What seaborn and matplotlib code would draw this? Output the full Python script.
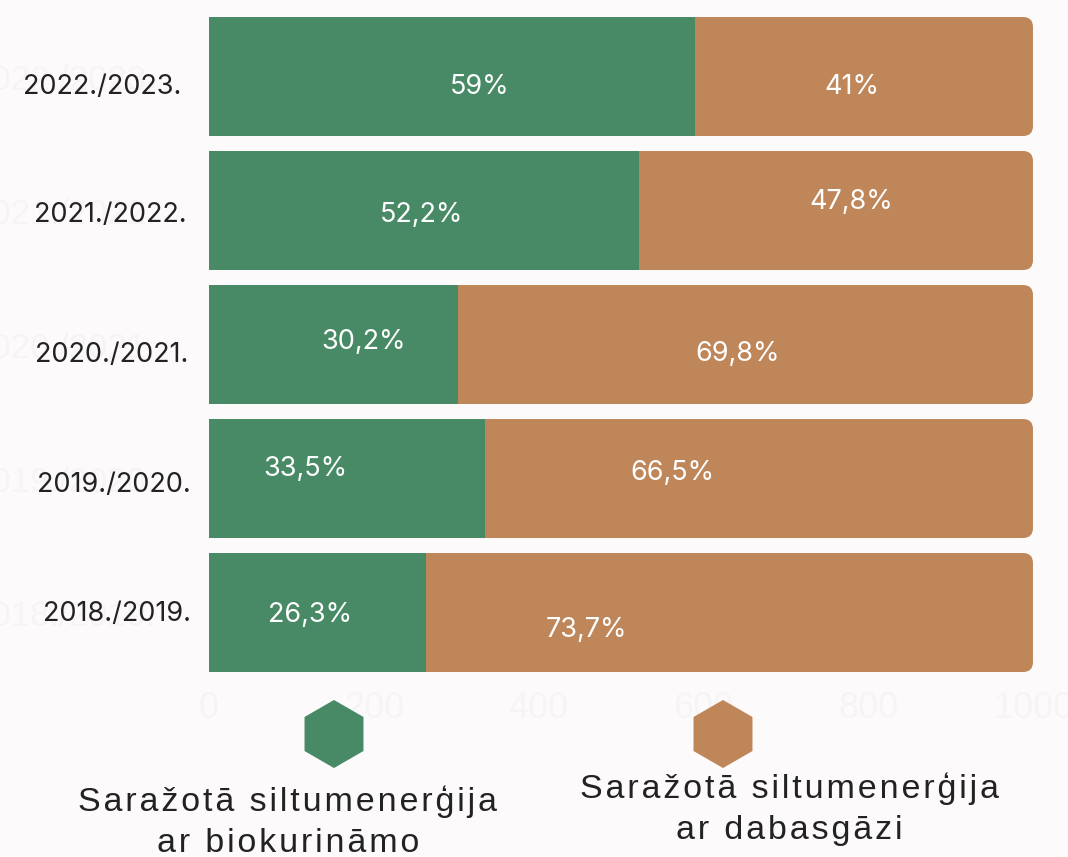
import matplotlib.pyplot as plt
import pandas as pd
import seaborn as sns
from matplotlib.patches import FancyBboxPatch

# data (bar lengths on the 0-1000 axis used by the original chart)
periods = ["2022./2023.", "2021./2022.", "2020./2021.", "2019./2020.", "2018./2019."]
bio = [590, 522, 302, 335, 263]
gas = [410, 478, 698, 665, 737]
bio_labels = ["59%", "52,2%", "30,2%", "33,5%", "26,3%"]
gas_labels = ["41%", "47,8%", "69,8%", "66,5%", "73,7%"]
legend_texts = ["Saražotā siltumenerģija\nar biokurināmo", "Saražotā siltumenerģija\nar dabasgāzi"]

# where the percentage labels sit (hand placed in the original)
bio_lbl_x = [329, 258, 187, 117, 123]
bio_lbl_y = [0.08, 1.03, 1.98, 2.93, 4.02]
gas_lbl_x = [780, 779, 641, 562, 458]
gas_lbl_y = [0.08, 0.935, 2.07, 2.96, 4.13]
ylab_x = [-33, -27, -25, -22, -22]
ylab_y = [0.08, 1.03, 2.075, 3.05, 4.01]

GREEN = "#478a65"
BROWN = "#bf865a"
BG = "#fcfafa"
FAINT = "#f6f4f4"

sns.set_theme(style="white")
plt.rcParams['font.family'] = ['Inter', 'DejaVu Sans']
NARROW = ['Liberation Sans Narrow', 'Liberation Sans', 'DejaVu Sans']

df = pd.DataFrame({"period": periods, "bio": bio, "gas": gas})
df["total"] = df["bio"] + df["gas"]

fig = plt.figure(figsize=(10.68, 8.57), dpi=100, facecolor=BG)
ax = fig.add_axes([0.1957, 0.2071, 0.7715, 0.7818])
ax.set_facecolor(BG)

sns.barplot(data=df, y="period", x="total", color=BROWN, saturation=1, width=0.888,
            linewidth=0, orient="h", ax=ax)
# round the right end of the brown bars
for p in list(ax.patches):
    x, y, w, h = p.get_x(), p.get_y(), p.get_width(), p.get_height()
    p.remove()
    ax.add_patch(FancyBboxPatch((x, y), w, h, boxstyle="round,pad=0,rounding_size=12",
                                mutation_aspect=0.00616, facecolor=BROWN, edgecolor="none"))
sns.barplot(data=df, y="period", x="bio", color=GREEN, saturation=1, width=0.888,
            linewidth=0, orient="h", ax=ax)

ax.set_xlim(0, 1000)
ax.set_ylim(4.5, -0.5)
ax.set_xlabel("")
ax.set_ylabel("")
sns.despine(ax=ax, left=True, bottom=True)

ax.set_xticks([0, 200, 400, 600, 800, 1000])
ax.set_xticklabels(["0", "200", "400", "600", "800", "1000"], family=NARROW,
                   fontsize=26, color=FAINT)
ax.set_yticks(range(len(periods)))
ax.set_yticklabels(periods, family=NARROW, fontsize=25, color=FAINT)
ax.tick_params(axis="x", length=0, pad=8)
ax.tick_params(axis="y", length=0, pad=38)

for i in range(len(periods)):
    ax.text(ylab_x[i], ylab_y[i], periods[i], ha="right", va="center", fontsize=19.5,
            color="#222222", clip_on=False)
    ax.text(bio_lbl_x[i], bio_lbl_y[i], bio_labels[i], ha="center", va="center",
            fontsize=19.5, color="white")
    ax.text(gas_lbl_x[i], gas_lbl_y[i], gas_labels[i], ha="center", va="center",
            fontsize=19.5, color="white")

# legend with hexagons
leg = fig.add_axes([0, 0, 1, 1], facecolor="none")
leg.set_xlim(0, 1068)
leg.set_ylim(857, 0)
leg.axis("off")
leg.scatter([334, 723], [734, 734], marker="h", s=49 ** 2, c=[GREEN, BROWN], linewidths=0)


def spaced(s):
    return "\n".join("\u200a".join(line) for line in s.split("\n"))


leg.text(288, 822, spaced(legend_texts[0]), ha="center", va="center", fontsize=24.5,
         family=NARROW, color="#222222", linespacing=1.4)
leg.text(789, 809, spaced(legend_texts[1]), ha="center", va="center", fontsize=24.5,
         family=NARROW, color="#222222", linespacing=1.4)

fig.savefig("out.png", dpi=100, facecolor=BG)
